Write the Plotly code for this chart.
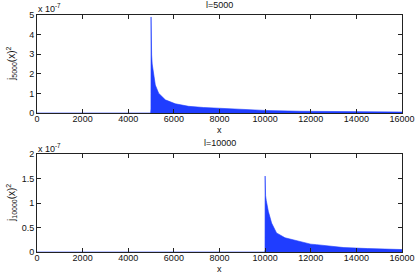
import plotly.graph_objects as go
from plotly.subplots import make_subplots

# Envelope of j_l(x)^2 (units of 1e-7)
x_5000 = [0, 4980, 4995, 5000, 5003, 5010, 5025, 5050, 5111, 5186, 5332, 5625,
          6063, 6647, 7300, 8000, 8600, 10000, 11500, 13000, 14500, 16000]
y_5000 = [0, 0, 0.2, 4.9, 3.6, 3.2, 2.96, 2.5, 1.9, 1.43, 1.01, 0.67,
          0.47, 0.34, 0.28, 0.24, 0.2, 0.13, 0.09, 0.075, 0.06, 0.05]

x_10000 = [0, 9980, 9995, 10000, 10005, 10020, 10050, 10140, 10284, 10500,
           10870, 11450, 12000, 12250, 13450, 14500, 16000]
y_10000 = [0, 0, 0.05, 1.55, 1.25, 1.15, 1.05, 0.83, 0.59, 0.39,
           0.29, 0.22, 0.16, 0.15, 0.09, 0.07, 0.05]

x_ticks = [0, 2000, 4000, 6000, 8000, 10000, 12000, 14000, 16000]
x_ticktext = ["0", "2000", "4000", "6000", "8000", "10000", "12000", "14000", "16000"]
y_ticks_top = [0, 1, 2, 3, 4, 5]
y_ticktext_top = ["0", "1", "2", "3", "4", "5"]
y_ticks_bot = [0, 0.5, 1, 1.5, 2]
y_ticktext_bot = ["0", "0.5", "1", "1.5", "2"]

titles = ["l=5000", "l=10000"]
ylabels = ["j<sub>5000</sub>(x)<sup>2</sup>", "j<sub>10000</sub>(x)<sup>2</sup>"]

BLUE = "#1f3dff"
FONT = "Liberation Sans, Arial, sans-serif"

fig = make_subplots(rows=2, cols=1)
fig.add_trace(go.Scatter(x=x_5000, y=y_5000, mode="lines", fill="tozeroy",
                         line=dict(color=BLUE, width=0.6), fillcolor=BLUE,
                         showlegend=False), row=1, col=1)
fig.add_trace(go.Scatter(x=x_10000, y=y_10000, mode="lines", fill="tozeroy",
                         line=dict(color=BLUE, width=0.6), fillcolor=BLUE,
                         showlegend=False), row=2, col=1)

H = 276
T, B = 15, 24
area = H - T - B


def py(pix):
    return (H - B - pix) / area


axis_common = dict(showline=True, linecolor="#222", linewidth=1, mirror="ticks",
                   ticks="inside", ticklen=4, tickcolor="#222", showgrid=False,
                   zeroline=False, automargin=False,
                   tickfont=dict(size=9, family=FONT, color="#111"))

fig.update_xaxes(range=[0, 16000], tickvals=x_ticks, ticktext=x_ticktext,
                 domain=[37 / 415, 402 / 415], ticklabelstandoff=-3, **axis_common)
fig.update_yaxes(**axis_common)
fig.update_yaxes(range=[0, 5], tickvals=y_ticks_top, ticktext=y_ticktext_top,
                 domain=[py(113), 1], row=1, col=1)
fig.update_yaxes(range=[0, 2], tickvals=y_ticks_bot, ticktext=y_ticktext_bot,
                 domain=[0, py(154)], row=2, col=1)

ann = []
xc = (37 + 402) / 2 / 415
for title, ylab, ytitle, yx, yexp, ymid in [
        (titles[0], ylabels[0], 5, 130, 8, 64),
        (titles[1], ylabels[1], 143, 269, 148, 203)]:
    ann.append(dict(text=title, x=xc, y=py(ytitle), xref="paper", yref="paper",
                    showarrow=False, font=dict(size=9, family=FONT, color="#111"),
                    xanchor="center", yanchor="middle"))
    ann.append(dict(text="x", x=xc, y=py(yx), xref="paper", yref="paper",
                    showarrow=False, font=dict(size=9, family=FONT, color="#111"),
                    xanchor="center", yanchor="middle"))
    ann.append(dict(text="x 10<sup>-7</sup>", x=36 / 415, y=py(yexp), xref="paper",
                    yref="paper", showarrow=False,
                    font=dict(size=9, family=FONT, color="#111"),
                    xanchor="left", yanchor="middle"))
    ann.append(dict(text=ylab, x=11 / 415, y=py(ymid), xref="paper", yref="paper",
                    showarrow=False, textangle=-90,
                    font=dict(size=10, family=FONT, color="#111"),
                    xanchor="center", yanchor="middle"))

fig.update_layout(width=415, height=276, margin=dict(l=0, r=0, t=T, b=B),
                  paper_bgcolor="white", plot_bgcolor="white", annotations=ann,
                  font=dict(family=FONT, size=9))

fig.write_html("out.html", config={"displayModeBar": False},
               post_script="document.body.style.margin='0';document.body.style.overflow='hidden';")
